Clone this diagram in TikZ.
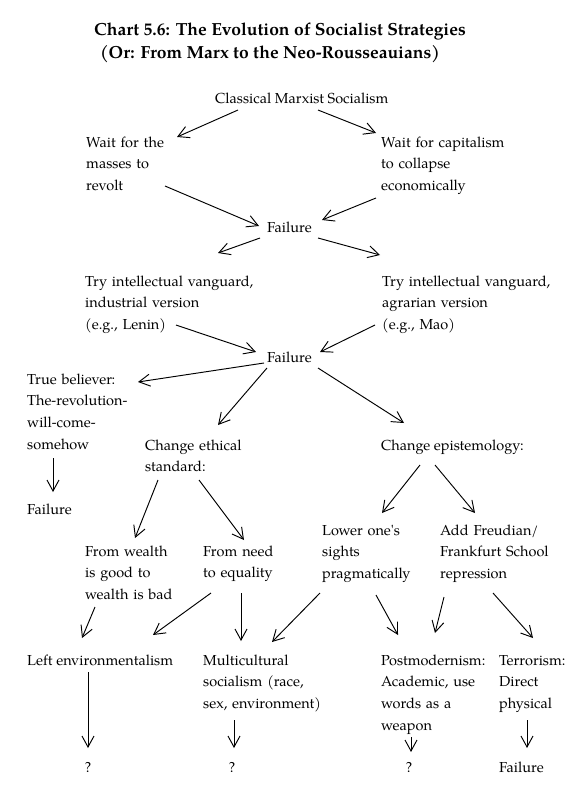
\documentclass[tikz,border=0pt]{standalone}
\usepackage{fontspec}
\setmainfont{texgyrepagella}[Extension=.otf,UprightFont=*-regular,BoldFont=*-bold,ItalicFont=*-italic,BoldItalicFont=*-bolditalic]
\usetikzlibrary{arrows.meta}
\begin{document}
\begin{tikzpicture}[x=1pt,y=-1pt,
  txt/.style={anchor=base west,inner sep=0pt,font=\fontsize{14.5}{21.8}\selectfont},
  mtxt/.style={txt,text width=200pt,align=left},
  ctxt/.style={txt,anchor=base},
  ttl/.style={anchor=base,inner sep=0pt,font=\fontsize{17.5}{23}\selectfont\bfseries},
  arr/.style={line width=0.95pt,-{Straight Barb[length=11pt,width=12pt]}}]
\useasboundingbox (0,0) rectangle (573,800);
% title
\node[ttl] (t1) at (280,36) {Chart 5.6: The Evolution of Socialist Strategies};
\node[ttl] (t2) at (270,59) {(Or: From Marx to the Neo-Rousseauians)};
% nodes
\node[txt]  (cms) at (215,103) {Classical Marxist Socialism};
\node[mtxt] (w1)  at (86,147)  {Wait for the\\masses to\\revolt};
\node[mtxt] (w2)  at (381,147) {Wait for capitalism\\to collapse\\economically};
\node[txt]  (f1)  at (267,232) {Failure};
\node[mtxt] (v1)  at (85,286)  {Try intellectual vanguard,\\industrial version\\(e.g., Lenin)};
\node[mtxt] (v2)  at (382,286) {Try intellectual vanguard,\\agrarian version\\(e.g., Mao)};
\node[txt]  (f2)  at (267,362) {Failure};
\node[mtxt] (tb)  at (27,384)  {True believer:\\The-revolution-\\will-come-\\somehow};
\node[mtxt] (ce)  at (145,450) {Change ethical\\standard:};
\node[txt]  (cep) at (381,450) {Change epistemology:};
\node[txt]  (fl)  at (27,514)  {Failure};
\node[mtxt] (fw)  at (85,556)  {From wealth\\is good to\\wealth is bad};
\node[mtxt] (fn)  at (203,556) {From need\\to equality};
\node[mtxt] (lo)  at (322,535) {Lower one\textquotesingle s\\sights\\pragmatically};
\node[mtxt] (af)  at (440,535) {Add Freudian/\\Frankfurt School\\repression};
\node[txt]  (le)  at (27,665)  {Left environmentalism};
\node[mtxt] (mc)  at (203,665) {Multicultural\\socialism (race,\\sex, environment)};
\node[mtxt] (pm)  at (381,665) {Postmodernism:\\Academic, use\\words as a\\weapon};
\node[mtxt] (tr)  at (499,665) {Terrorism:\\Direct\\physical};
\node[ctxt] (q1)  at (88,772)  {?};
\node[ctxt] (q2)  at (232,772) {?};
\node[ctxt] (q3)  at (409,772) {?};
\node[txt]  (f3)  at (499,772) {Failure};
% connectors
\draw[arr] ([shift={(23,7)}]cms.base west) -- ([shift={(91,-10)}]w1.base west);
\draw[arr] ([shift={(103,7)}]cms.base west) -- ([shift={(-5,-14)}]w2.base west);
\draw[arr] ([shift={(79,39)}]w1.base west) -- ([shift={(-8,-6)}]f1.base west);
\draw[arr] ([shift={(-5,51)}]w2.base west) -- ([shift={(55,-12)}]f1.base west);
\draw[arr] ([shift={(-7,6)}]f1.base west) -- ([shift={(133,-33)}]v1.base west);
\draw[arr] ([shift={(51,6)}]f1.base west) -- ([shift={(-2,-31)}]v2.base west);
\draw[arr] ([shift={(91,39)}]v1.base west) -- ([shift={(-11,-10)}]f2.base west);
\draw[arr] ([shift={(-7,39)}]v2.base west) -- ([shift={(53,-10)}]f2.base west);
\draw[arr] ([shift={(-3,1)}]f2.base west) -- ([shift={(111,-2)}]tb.base west);
\draw[arr] ([shift={(0,6)}]f2.base west) -- ([shift={(73,-25)}]ce.base west);
\draw[arr] ([shift={(51,6)}]f2.base west) -- ([shift={(23,-27)}]cep.base west);
\draw[arr] ([shift={(26,74)}]tb.base west) -- ([shift={(26,-22)}]fl.base west);
\draw[arr] ([shift={(13,30)}]ce.base west) -- ([shift={(50,-18)}]fw.base west);
\draw[arr] ([shift={(54,30)}]ce.base west) -- ([shift={(41,-16)}]fn.base west);
\draw[arr] ([shift={(39,15)}]cep.base west) -- ([shift={(60,-22)}]lo.base west);
\draw[arr] ([shift={(54,15)}]cep.base west) -- ([shift={(35,-22)}]af.base west);
\draw[arr] ([shift={(10,51)}]fw.base west) -- ([shift={(55,-27)}]le.base west);
\draw[arr] ([shift={(8,37)}]fn.base west) -- ([shift={(126,-30)}]le.base west);
\draw[arr] ([shift={(38,37)}]fn.base west) -- ([shift={(38,-24)}]mc.base west);
\draw[arr] ([shift={(-2,58)}]lo.base west) -- ([shift={(69,-23)}]mc.base west);
\draw[arr] ([shift={(54,60)}]lo.base west) -- ([shift={(17,-30)}]pm.base west);
\draw[arr] ([shift={(4,62)}]af.base west) -- ([shift={(54,-32)}]pm.base west);
\draw[arr] ([shift={(53,58)}]af.base west) -- ([shift={(34,-27)}]tr.base west);
\draw[arr] ([shift={(61,7)}]le.base west) -- ([shift={(0,-24)}]q1.base);
\draw[arr] ([shift={(31,55)}]mc.base west) -- ([shift={(2,-24)}]q2.base);
\draw[arr] ([shift={(30,72)}]pm.base west) -- ([shift={(2,-20)}]q3.base);
\draw[arr] ([shift={(28,55)}]tr.base west) -- ([shift={(28,-24)}]f3.base west);
\end{tikzpicture}
\end{document}
